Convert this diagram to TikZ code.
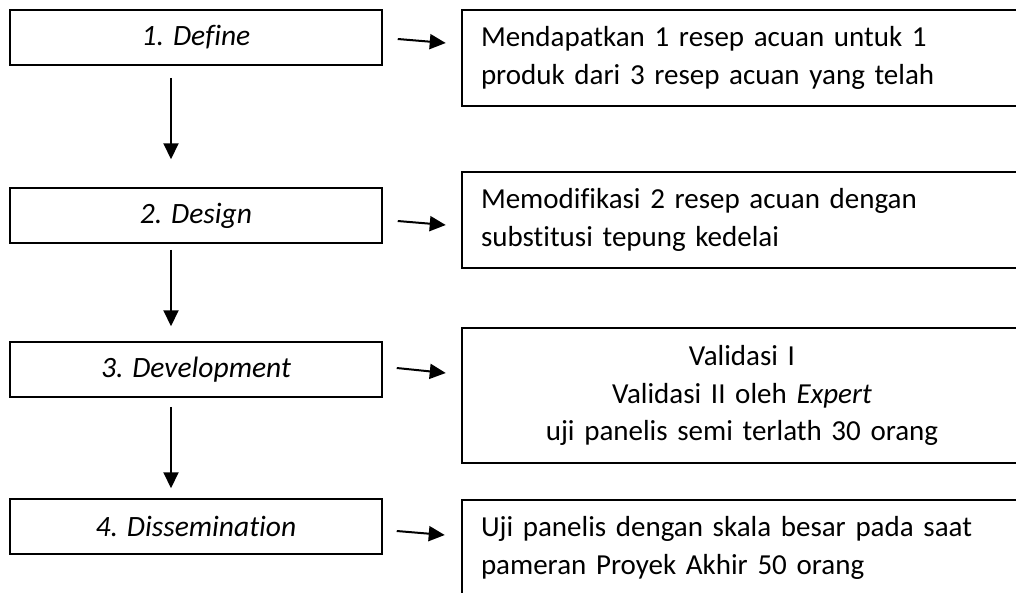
\documentclass[tikz,border=0pt]{standalone}
\usepackage{fontspec}
\setmainfont{Carlito}[Ligatures=NoCommon]
\usetikzlibrary{arrows.meta}

\begin{document}
\begin{tikzpicture}[x=1pt,y=-1pt]
  \newcommand{\Xstep}[0]{ 196 }
  \newcommand{\Xdesc}[0]{ 742 }
  \newcommand{\Xdown}[0]{ -25pt }
  
  \tikzstyle{edge}  = [line width=2pt,draw=black]
  \tikzstyle{dedge} = [line width=2pt,-{Triangle[length=16pt,width=15pt]},draw=black]
  \tikzstyle{stepbox}=[
    rectangle,
    draw=black,
    anchor=center,
    align=center,
    line width=1.5pt,
    minimum width=372pt,
    minimum height=55pt,
    font=\fontsize{29.5}{37.5}\selectfont\itshape,
  ]
  \tikzstyle{descbox}=[
    rectangle,
    draw=black,
    anchor=center,
    align=left,
    line width=1.4pt,
    minimum width=560pt,
    text width=522pt,
    inner xsep=19pt,
    font=\fontsize{29}{37.5}\selectfont,
  ]
  
  \useasboundingbox (0,0) rectangle (1016,592);
  \clip (0,0) rectangle (1016,592);
  
  % steps
  \node[stepbox] (define)  at (\Xstep, 37.5)  {1. Define};
  \node[stepbox] (design)  at (\Xstep, 215.5) {2. Design};
  \node[stepbox] (develop) at (\Xstep, 369.5) {3. Development};
  \node[stepbox] (dissem)  at (\Xstep, 526.5) {4. Dissemination};
  
  % descriptions
  \node[descbox,minimum height=96pt] (defineinfo) at (\Xdesc, 58)
    {Mendapatkan 1 resep acuan untuk 1\\produk dari 3 resep acuan yang telah};
  \node[descbox,minimum height=96pt] (designinfo) at (\Xdesc, 220)
    {Memodifikasi 2 resep acuan dengan\\substitusi tepung kedelai};
  \node[descbox,minimum height=135pt,align=center] (developinfo) at (\Xdesc, 395.5)
    {Validasi I\\Validasi II oleh \textit{Expert}\\uji panelis semi terlath 30 orang};
  \node[descbox,minimum height=96pt] (disseminfo) at (\Xdesc, 548)
    {Uji panelis dengan skala besar pada saat\\pameran Proyek Akhir 50 orang};
  
  % flow
  \draw[dedge] ([xshift=\Xdown,yshift=-12pt]define.south)  -- ([xshift=\Xdown,yshift=28pt]design.north);
  \draw[dedge] ([xshift=\Xdown,yshift=-6pt]design.south)   -- ([xshift=\Xdown,yshift=15pt]develop.north);
  \draw[dedge] ([xshift=\Xdown,yshift=-9pt]develop.south)  -- ([xshift=\Xdown,yshift=10pt]dissem.north);
  
  % outputs
  \draw[dedge] ([xshift=15pt,yshift=-1.5pt]define.east)  -- ++(48,4);
  \draw[dedge] ([xshift=15pt,yshift=-5.5pt]design.east)  -- ++(48,4);
  \draw[dedge] ([xshift=14pt,yshift=1.5pt]develop.east)  -- ++(49,5);
  \draw[dedge] ([xshift=14pt,yshift=-4.5pt]dissem.east)  -- ++(48,4);
\end{tikzpicture}
\end{document}
